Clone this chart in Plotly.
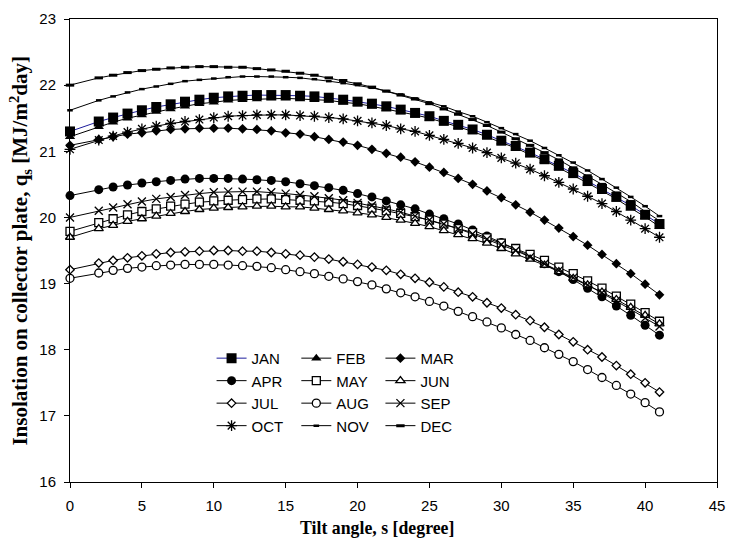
import plotly.graph_objects as go

tilt = [0, 2, 3, 4, 5, 6, 7, 8, 9, 10, 11, 12, 13, 14, 15, 16, 17, 18, 19, 20,
        21, 22, 23, 24, 25, 26, 27, 28, 29, 30, 31, 32, 33, 34, 35, 36, 37, 38, 39, 40, 41]

months = ["JAN", "FEB", "MAR", "APR", "MAY", "JUN", "JUL", "AUG", "SEP", "OCT", "NOV", "DEC"]

JAN = [21.30, 21.45, 21.51, 21.57, 21.62, 21.67, 21.71, 21.75, 21.78, 21.81, 21.83, 21.84, 21.85, 21.85, 21.85, 21.84, 21.83, 21.81, 21.78, 21.75,
       21.72, 21.68, 21.63, 21.58, 21.53, 21.46, 21.40, 21.33, 21.25, 21.16, 21.08, 20.98, 20.88, 20.78, 20.67, 20.55, 20.43, 20.31, 20.18, 20.04, 19.90]
FEB = [21.22, 21.37, 21.44, 21.50, 21.55, 21.60, 21.64, 21.68, 21.72, 21.74, 21.77, 21.78, 21.79, 21.80, 21.80, 21.79, 21.78, 21.77, 21.74, 21.72,
       21.68, 21.64, 21.60, 21.55, 21.50, 21.44, 21.37, 21.30, 21.22, 21.14, 21.05, 20.95, 20.86, 20.75, 20.64, 20.52, 20.40, 20.28, 20.14, 20.01, 19.86]
MAR = [21.09, 21.18, 21.22, 21.26, 21.28, 21.31, 21.33, 21.34, 21.35, 21.35, 21.35, 21.34, 21.33, 21.31, 21.28, 21.26, 21.22, 21.18, 21.14, 21.09,
       21.03, 20.97, 20.91, 20.84, 20.76, 20.68, 20.59, 20.50, 20.40, 20.30, 20.19, 20.08, 19.96, 19.84, 19.71, 19.58, 19.44, 19.30, 19.15, 18.99, 18.83]
APR = [20.33, 20.42, 20.46, 20.49, 20.52, 20.54, 20.56, 20.58, 20.59, 20.59, 20.59, 20.58, 20.57, 20.56, 20.54, 20.51, 20.48, 20.45, 20.41, 20.36,
       20.31, 20.25, 20.19, 20.13, 20.05, 19.98, 19.90, 19.81, 19.72, 19.62, 19.52, 19.41, 19.30, 19.18, 19.06, 18.93, 18.80, 18.66, 18.52, 18.37, 18.22]
MAY = [19.79, 19.92, 19.98, 20.04, 20.09, 20.13, 20.17, 20.20, 20.23, 20.25, 20.26, 20.27, 20.28, 20.28, 20.27, 20.26, 20.25, 20.23, 20.21, 20.18,
       20.14, 20.10, 20.06, 20.01, 19.96, 19.90, 19.83, 19.77, 19.69, 19.61, 19.53, 19.44, 19.35, 19.25, 19.15, 19.04, 18.93, 18.81, 18.69, 18.56, 18.43]
JUN = [19.70, 19.83, 19.88, 19.94, 19.98, 20.02, 20.06, 20.09, 20.12, 20.14, 20.15, 20.16, 20.17, 20.17, 20.16, 20.16, 20.14, 20.12, 20.10, 20.07,
       20.04, 20.00, 19.96, 19.91, 19.86, 19.80, 19.74, 19.68, 19.61, 19.53, 19.45, 19.37, 19.28, 19.18, 19.08, 18.98, 18.87, 18.76, 18.64, 18.52, 18.39]
JUL = [19.21, 19.31, 19.35, 19.39, 19.42, 19.45, 19.47, 19.48, 19.49, 19.50, 19.50, 19.49, 19.49, 19.47, 19.45, 19.43, 19.40, 19.37, 19.33, 19.29,
       19.25, 19.20, 19.14, 19.08, 19.02, 18.95, 18.87, 18.80, 18.71, 18.63, 18.53, 18.44, 18.34, 18.23, 18.12, 18.00, 17.89, 17.76, 17.63, 17.50, 17.36]
AUG = [19.08, 19.16, 19.20, 19.23, 19.25, 19.27, 19.28, 19.29, 19.29, 19.29, 19.28, 19.27, 19.26, 19.24, 19.21, 19.18, 19.15, 19.11, 19.07, 19.03,
       18.98, 18.92, 18.86, 18.80, 18.73, 18.66, 18.58, 18.50, 18.42, 18.33, 18.23, 18.14, 18.03, 17.93, 17.82, 17.70, 17.58, 17.46, 17.33, 17.20, 17.06]
SEP = [20.00, 20.10, 20.15, 20.20, 20.24, 20.28, 20.31, 20.34, 20.36, 20.38, 20.39, 20.39, 20.39, 20.38, 20.36, 20.34, 20.32, 20.29, 20.26, 20.22,
       20.18, 20.13, 20.08, 20.02, 19.96, 19.90, 19.83, 19.75, 19.67, 19.59, 19.50, 19.40, 19.30, 19.20, 19.09, 18.98, 18.86, 18.74, 18.61, 18.48, 18.35]
OCT = [21.03, 21.17, 21.23, 21.29, 21.34, 21.38, 21.42, 21.45, 21.48, 21.51, 21.53, 21.54, 21.55, 21.55, 21.55, 21.54, 21.53, 21.51, 21.49, 21.46,
       21.43, 21.39, 21.34, 21.30, 21.24, 21.18, 21.12, 21.05, 20.98, 20.90, 20.82, 20.73, 20.63, 20.53, 20.43, 20.32, 20.21, 20.09, 19.96, 19.83, 19.70]
NOV = [21.62, 21.77, 21.83, 21.89, 21.94, 21.98, 22.02, 22.06, 22.08, 22.10, 22.12, 22.13, 22.13, 22.13, 22.12, 22.11, 22.09, 22.06, 22.03, 22.00,
       21.96, 21.91, 21.86, 21.80, 21.74, 21.68, 21.60, 21.53, 21.44, 21.35, 21.26, 21.16, 21.05, 20.94, 20.83, 20.71, 20.58, 20.45, 20.31, 20.17, 20.02]
DEC = [22.00, 22.11, 22.15, 22.19, 22.22, 22.24, 22.26, 22.27, 22.28, 22.28, 22.27, 22.27, 22.25, 22.23, 22.21, 22.18, 22.15, 22.11, 22.07, 22.02,
       21.97, 21.91, 21.85, 21.79, 21.72, 21.64, 21.56, 21.48, 21.39, 21.29, 21.19, 21.09, 20.98, 20.87, 20.75, 20.63, 20.50, 20.37, 20.24, 20.09, 19.95]

x_ticks = [0, 5, 10, 15, 20, 25, 30, 35, 40, 45]
y_ticks = [16, 17, 18, 19, 20, 21, 22, 23]

values = [JAN, FEB, MAR, APR, MAY, JUN, JUL, AUG, SEP, OCT, NOV, DEC]

styles = {
    "JAN": dict(symbol="square", size=10, fill="black", lw=0, line="#1c1c9c"),
    "FEB": dict(symbol="triangle-up", size=9, fill="black", lw=0),
    "MAR": dict(symbol="diamond", size=7.5, fill="black", lw=0),
    "APR": dict(symbol="circle", size=9, fill="black", lw=0),
    "MAY": dict(symbol="square", size=8, fill="white", lw=1.3),
    "JUN": dict(symbol="triangle-up", size=8, fill="white", lw=1.3),
    "JUL": dict(symbol="diamond", size=6.5, fill="white", lw=1.3),
    "AUG": dict(symbol="circle", size=8, fill="white", lw=1.3),
    "SEP": dict(symbol="x-thin-open", size=8, fill="black", lw=1.3),
    "OCT": dict(symbol="asterisk-open", size=9, fill="black", lw=1.3),
    "NOV": dict(symbol="line-ew-open", size=4, fill="black", lw=2.5),
    "DEC": dict(symbol="line-ew-open", size=6, fill="black", lw=3),
}

legend_names = ["legend", "legend2", "legend3"]

fig = go.Figure()
for i, (m, v) in enumerate(zip(months, values)):
    s = styles[m]
    fig.add_trace(go.Scatter(
        x=tilt, y=v, name=m, mode="lines+markers",
        line=dict(color=s.get("line", "black"), width=1),
        marker=dict(symbol=s["symbol"], size=s["size"], color=s["fill"],
                    line=dict(color="black", width=s["lw"])),
        cliponaxis=False,
        legend=legend_names[i % 3],
    ))

tick_font = dict(family="Liberation Sans, Arial, sans-serif", size=15, color="black")
leg_common = dict(xanchor="left", yanchor="top", bgcolor="rgba(0,0,0,0)",
                  font=dict(family="Liberation Sans, Arial, sans-serif", size=15, color="black"),
                  borderwidth=0)

fig.update_layout(
    width=735, height=544,
    margin=dict(l=70, r=10, t=15, b=62),
    paper_bgcolor="white", plot_bgcolor="white",
    xaxis=dict(range=[0, 45], tickvals=x_ticks, showline=True, linecolor="black", linewidth=1,
               mirror=True, ticks="outside", ticklen=5, tickcolor="black", showgrid=False,
               zeroline=False, tickfont=tick_font, ticklabelstandoff=5),
    yaxis=dict(range=[16, 23], tickvals=y_ticks, showline=True, linecolor="black", linewidth=1,
               mirror=True, ticks="outside", ticklen=5, tickcolor="black", showgrid=False,
               zeroline=False, tickfont=tick_font, ticklabelstandoff=5),
    legend=dict(x=0.2188, y=0.3026, **leg_common),
    legend2=dict(x=0.3498, y=0.3026, **leg_common),
    legend3=dict(x=0.4798, y=0.3026, **leg_common),
    annotations=[
        dict(text="Tilt angle, s [degree]", xref="paper", yref="paper", x=0.4745, y=-0.1,
             xanchor="center", yanchor="middle", showarrow=False,
             font=dict(family="Liberation Serif, Times New Roman, serif", size=17.8, color="black", weight="bold")),
        dict(text="Insolation on collector plate, q<sub>s</sub> [MJ/m<sup>2</sup>day]", xref="paper", yref="paper",
             x=-0.0772, y=0.5, xanchor="center", yanchor="middle", textangle=-90, showarrow=False,
             font=dict(family="Liberation Serif, Times New Roman, serif", size=21, color="black", weight="bold")),
    ],
)

fig.write_html("out.html")
